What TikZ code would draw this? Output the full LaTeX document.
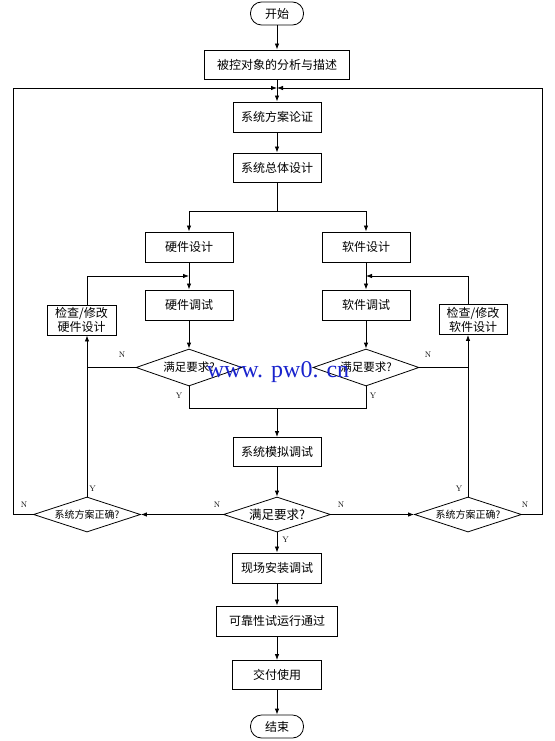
\documentclass[tikz,border=0pt]{standalone}
\usepackage{fontspec}
\newfontfamily\cjk{Noto Sans CJK SC}
\newfontfamily\wmfont{Liberation Serif}
\usepackage{tikz}
\usetikzlibrary{arrows.meta}
\usetikzlibrary{calc}
\usetikzlibrary{shapes.geometric}
\definecolor{wmblue}{RGB}{25,35,205}

\begin{document}
\begin{tikzpicture}[x=1pt,y=-1pt,line width=0.8pt,
        box/.style={draw, line width=0.95pt, inner sep=0pt, minimum height=30pt, font=\cjk\fontsize{12}{14}\selectfont},
        term/.style={draw, rounded corners=11pt, inner sep=0pt, minimum width=53pt, minimum height=23pt, font=\cjk\fontsize{12}{14}\selectfont},
        cond/.style={draw, diamond, aspect=3, inner sep=0pt, font=\cjk\fontsize{11.5}{13}\selectfont},
        yn/.style={inner sep=0pt, font=\fontsize{8}{8}\selectfont},
        arr/.style={-{Latex[length=6pt,width=4.5pt]}}]
        \useasboundingbox (0,0) rectangle (554,741);

        \node[term] (start) at (277,13.5) {开始};
        \node[box, minimum width=145pt, minimum height=29pt] (analyse) at (277,64.5) {被控对象的分析与描述};
        \node[box, minimum width=88pt] (scheme) at (277,117) {系统方案论证};
        \node[box, minimum width=88pt, minimum height=29pt] (overall) at (277,167.5) {系统总体设计};

        \node[box, minimum width=88pt] (hwdesign) at (189,247) {硬件设计};
        \node[box, minimum width=88pt] (swdesign) at (366,247) {软件设计};
        \node[box, minimum width=88pt] (hwdebug) at (189,305) {硬件调试};
        \node[box, minimum width=88pt] (swdebug) at (366,305) {软件调试};
        \node[box, minimum width=69pt, align=center] (hwfix) at (81.5,320) {检查/修改\\硬件设计};
        \node[box, minimum width=68pt, align=center] (swfix) at (473,319.5) {检查/修改\\软件设计};
        \node[cond, minimum width=106pt, minimum height=37pt] (lreq) at (189,367.5) {满足要求?};
        \node[cond, minimum width=106pt, minimum height=37pt] (rreq) at (366,367.5) {满足要求?};

        \node[box, minimum width=88pt, minimum height=29pt] (simdebug) at (277,452) {系统模拟调试};
        \node[cond, minimum width=107pt, minimum height=35pt, font=\cjk\fontsize{12.5}{14}\selectfont] (mreq) at (277,514.5) {满足要求?};
        \node[cond, minimum width=107pt, minimum height=35pt, font=\cjk\fontsize{10}{12}\selectfont] (lcheck) at (87,514.5) {系统方案正确?};
        \node[cond, minimum width=107pt, minimum height=35pt, font=\cjk\fontsize{10}{12}\selectfont] (rcheck) at (468,514.5) {系统方案正确?};

        \node[box, minimum width=89pt] (install) at (277,568) {现场安装调试};
        \node[box, minimum width=121pt] (trial) at (277,621) {可靠性试运行通过};
        \node[box, minimum width=89pt, minimum height=29pt] (deliver) at (277,675) {交付使用};
        \node[term] (stop) at (277,726.5) {结束};

        \coordinate (join) at (277,88);
        \coordinate (split) at (277,211);
        \coordinate (hwjoin) at (189,276);
        \coordinate (swjoin) at (366,276);
        \coordinate (merge) at (277,408);
        \coordinate (lout) at (13,514.5);
        \coordinate (rout) at (542,514.5);

        % main line
        \draw[arr] (start) -- (analyse);
        \draw[arr] (analyse) -- (scheme);
        \draw[arr] (scheme) -- (overall);
        \draw (overall) -- (split);
        \draw[arr] (split) -| (hwdesign);
        \draw[arr] (split) -| (swdesign);
        \draw[arr] (hwdesign) -- (hwdebug);
        \draw[arr] (swdesign) -- (swdebug);
        \draw[arr] (hwdebug) -- (lreq);
        \draw[arr] (swdebug) -- (rreq);

        % loops back to debugging
        \draw (lreq.west) -- (lreq.west -| lcheck.north);
        \draw (rreq.east) -- (rreq.east -| rcheck.north);
        \draw[arr] (lcheck.north) -- (lcheck.north |- hwfix.south);
        \draw[arr] (rcheck.north) -- (rcheck.north |- swfix.south);
        \draw[arr] (hwfix.north -| lcheck.north) |- (hwjoin);
        \draw[arr] (swfix.north -| rcheck.north) |- (swjoin);

        \draw (lreq.south) |- (merge);
        \draw (rreq.south) |- (merge);
        \draw[arr] (merge) -- (simdebug);
        \draw[arr] (simdebug) -- (mreq);
        \draw[arr] (mreq.west) -- (lcheck.east);
        \draw[arr] (mreq.east) -- (rcheck.west);
        \draw[arr] (lcheck.west) -- (lout) |- (join);
        \draw[arr] (rcheck.east) -- (rout) |- (join);

        \draw[arr] (mreq) -- (install);
        \draw[arr] (install) -- (trial);
        \draw[arr] (trial) -- (deliver);
        \draw[arr] (deliver) -- (stop);

        % Y / N labels
        \node[yn] (lreqn) at (122,355) {N};
        \node[yn] (rreqn) at (428,355) {N};
        \node[yn] (lreqy) at (179,396) {Y};
        \node[yn] (rreqy) at (373,396) {Y};
        \node[yn] (mreqnl) at (217,505) {N};
        \node[yn] (mreqnr) at (341,505) {N};
        \node[yn] (mreqy) at (285.5,540) {Y};
        \node[yn] (lcheckn) at (24,505) {N};
        \node[yn] (rcheckn) at (525,505) {N};
        \node[yn] (lchecky) at (92.5,489) {Y};
        \node[yn] (rchecky) at (459,489) {Y};

        \node[inner sep=0pt, text=wmblue, font=\wmfont\fontsize{24}{24}\selectfont] (mark) at (278,372.5) {www. pw0. cn};
\end{tikzpicture}
\end{document}
